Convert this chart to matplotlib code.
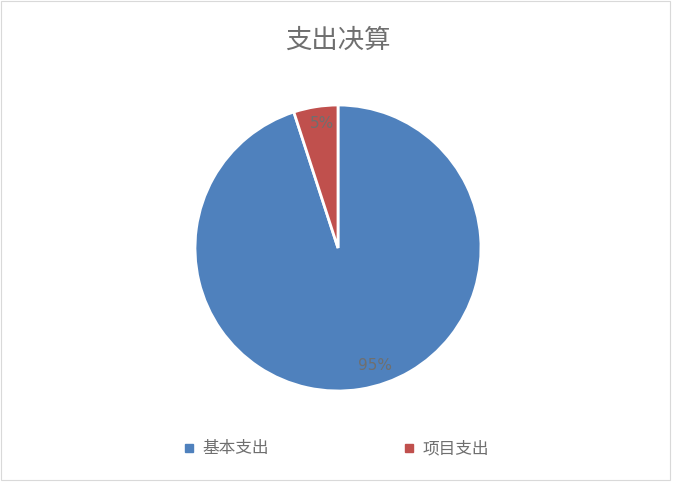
import matplotlib
matplotlib.use('Agg')
import matplotlib.pyplot as plt
from matplotlib.patches import Rectangle
from matplotlib.lines import Line2D

plt.rcParams['font.family'] = ['Noto Sans CJK SC', 'DejaVu Sans']

# data
labels = ['基本支出', '项目支出']
shares = [95, 5]
colors = ['#4f81bd', '#c0504d']
title = '支出决算'

W, H = 680, 487
fig = plt.figure(figsize=(W / 100, H / 100), dpi=100)
fig.patch.set_facecolor('white')

# chart area border
fig.add_artist(Rectangle((0.5 / W, 1 - 480 / H), 669.5 / W, 479.5 / H,
                         transform=fig.transFigure, fill=False,
                         edgecolor='#d9d9d9', linewidth=0.8))

# pie: centre (338, 248), radius 143 px
cx, cy, r = 338, 248, 143
ax = fig.add_axes([(cx - r) / W, (H - cy - r) / H, 2 * r / W, 2 * r / H])
wedges, texts, autotexts = ax.pie(
    shares, colors=colors, startangle=90, counterclock=False,
    autopct='%d%%', pctdistance=0.86,
    wedgeprops={'edgecolor': 'white', 'linewidth': 2},
    textprops={'color': '#6f6f6f', 'fontsize': 11, 'family': ['DejaVu Sans']})
ax.set_xlim(-1, 1)
ax.set_ylim(-1, 1)
ax.set_aspect('equal')
ax.axis('off')

# label positions as placed in the reference (best fit)
autotexts[0].set_position((0.26, -0.82))
autotexts[1].set_position((-0.11, 0.87))

fig.text(338 / W, 1 - 40 / H, title, ha='center', va='center',
         fontsize=19, color='#6f6f6f', fontweight='light')

handles = [Line2D([0], [0], marker='s', linestyle='none', markersize=6,
                  markerfacecolor=c, markeredgecolor=c) for c in colors]
fig.legend(handles, labels, loc='center', bbox_to_anchor=(335 / W, 1 - 449 / H),
           ncol=2, frameon=False, fontsize=12, labelcolor='#6f6f6f',
           columnspacing=7.9, handletextpad=0.3, handlelength=1.0,
           prop={'weight': 'light', 'size': 12})

fig.savefig('out.png', dpi=100, facecolor='white')
